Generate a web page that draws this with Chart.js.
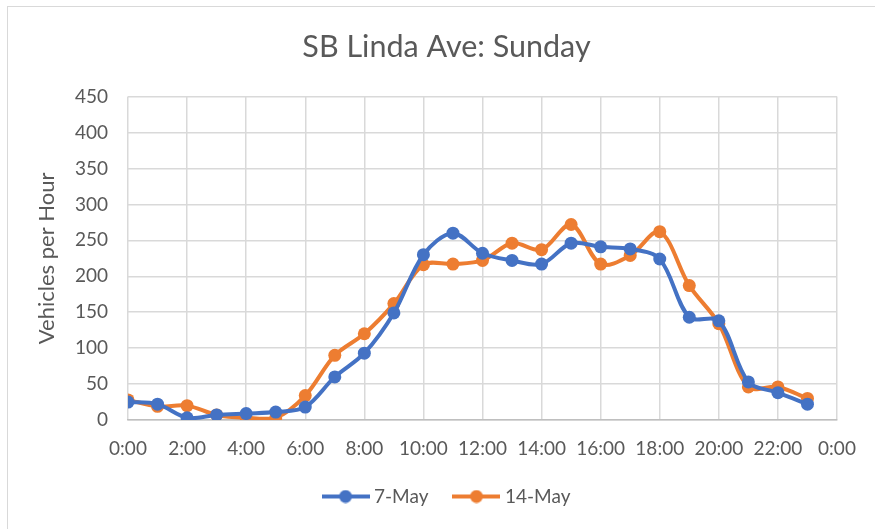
<!DOCTYPE html>
<html>
<head>
<meta charset="utf-8">
<script src="https://cdn.jsdelivr.net/npm/chart.js@4"></script>
<style>
  html, body { margin: 0; padding: 0; background: #fff; }
  #wrap { position: relative; width: 875px; height: 529px; overflow: hidden; }
  #frame { position: absolute; left: 7px; top: 6px; width: 900px; height: 600px; border: 1.5px solid #d9d9d9; box-sizing: border-box; }
  canvas { position: absolute; left: 0; top: 0; }
</style>
</head>
<body>
<div id="wrap">
  <div id="frame"></div>
  <canvas id="grafico" width="875" height="529"></canvas>
</div>
<script>
// Dados (veículos por hora, domingo)
const horas = [0, 1, 2, 3, 4, 5, 6, 7, 8, 9, 10, 11, 12, 13, 14, 15, 16, 17, 18, 19, 20, 21, 22, 23];
const maio7 = [25, 22, 3, 7, 9, 11, 18, 60, 93, 149, 230, 260, 232, 222, 217, 246, 241, 238, 224, 143, 138, 53, 38, 22];
const maio14 = [28, 19, 20, 7, 3, 3, 34, 90, 120, 162, 216, 217, 222, 246, 237, 272, 217, 229, 262, 187, 134, 46, 46, 30];
const series = ["7-May", "14-May"];
const cores = ["#4472C4", "#ED7D31"];
const yTicks = [0, 50, 100, 150, 200, 250, 300, 350, 400, 450];

const cinzaTexto = "#595959";
const fonte = "Lato";

// símbolo da legenda: linha com marcador no meio
function simbolo(cor) {
  const c = document.createElement("canvas");
  c.width = 48; c.height = 14;
  const g = c.getContext("2d");
  g.strokeStyle = cor; g.lineWidth = 4;
  g.beginPath(); g.moveTo(0, 7); g.lineTo(48, 7); g.stroke();
  g.fillStyle = cor;
  g.beginPath(); g.arc(24, 7, 6.5, 0, Math.PI * 2); g.fill();
  return c;
}

const pontos = arr => horas.map((h, i) => ({ x: h, y: arr[i] }));

// título e legenda centrados na largura toda, como no Excel
const centraliza = {
  id: "centraliza",
  afterLayout(chart) {
    chart.legend.left += 13;
    chart.legend.right += 13;
    chart.titleBlock.left += 11;
    chart.titleBlock.right += 11;
  }
};

new Chart(document.getElementById("grafico"), {
  type: "line",
  data: {
    datasets: [maio7, maio14].map((arr, i) => ({
      label: series[i],
      data: pontos(arr),
      borderColor: cores[i],
      backgroundColor: cores[i],
      borderWidth: 4,
      pointRadius: 6.5,
      pointHoverRadius: 6.5,
      pointBorderWidth: 0,
      pointStyle: "circle",
      tension: 0.33
    }))
  },
  plugins: [centraliza],
  options: {
    responsive: false,
    animation: false,
    layout: { padding: { top: 6, left: 34, right: 38, bottom: 13 } },
    plugins: {
      title: {
        display: true,
        text: "SB Linda Ave: Sunday",
        color: cinzaTexto,
        font: { family: fonte, size: 30.5, weight: "normal" },
        padding: { top: 23, bottom: 31 }
      },
      legend: {
        position: "bottom",
        labels: {
          color: cinzaTexto,
          font: { family: fonte, size: 19 },
          usePointStyle: true,
          pointStyleWidth: 38,
          padding: 29,
          generateLabels: chart => chart.data.datasets.map((ds, i) => ({
            text: ds.label,
            pointStyle: simbolo(cores[i]),
            fontColor: cinzaTexto,
            lineWidth: 0,
            datasetIndex: i
          }))
        }
      },
      tooltip: { enabled: false }
    },
    scales: {
      x: {
        type: "linear",
        min: 0, max: 24,
        ticks: {
          stepSize: 2,
          color: cinzaTexto,
          font: { family: fonte, size: 19 },
          padding: 17,
          maxRotation: 0,
          callback: v => (v % 24) + ":00"
        },
        grid: { color: "#d9d9d9", lineWidth: 1.5, drawTicks: false },
        border: { color: "#bfbfbf", width: 1.5 },
        afterFit: s => { s.height = 38; }
      },
      y: {
        min: 0, max: 450,
        afterBuildTicks: s => { s.ticks = yTicks.map(v => ({ value: v })); },
        ticks: {
          color: cinzaTexto,
          font: { family: fonte, size: 19 },
          padding: 20
        },
        grid: { color: "#d9d9d9", lineWidth: 1.5, drawTicks: false },
        border: { display: false },
        title: {
          display: true,
          text: "Vehicles per Hour",
          color: cinzaTexto,
          font: { family: fonte, size: 22 },
          padding: { top: 0, bottom: 0 }
        },
        afterFit: s => { s.width = 94; }
      }
    }
  }
});
</script>
</body>
</html>
